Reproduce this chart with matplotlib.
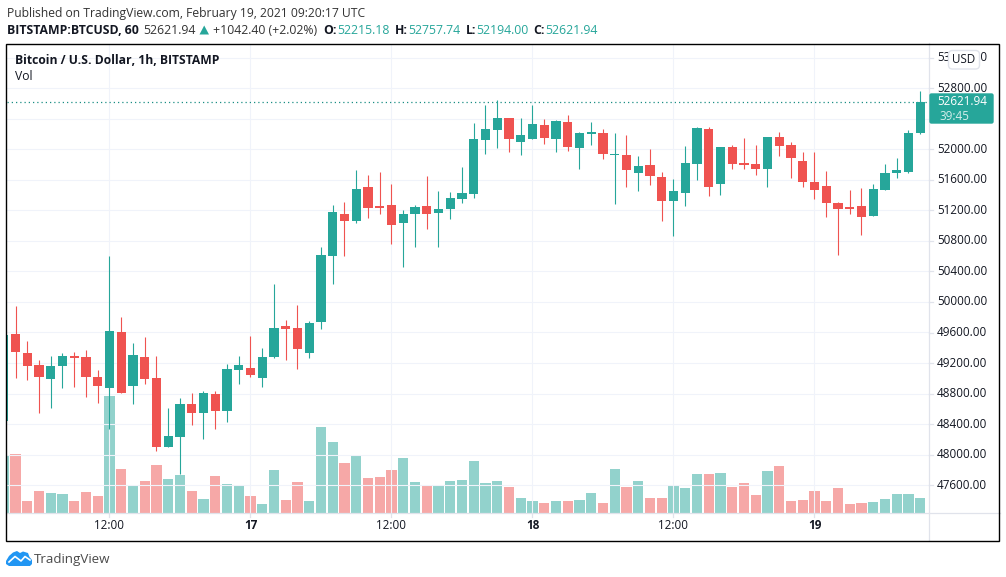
import matplotlib
matplotlib.use('Agg')
import matplotlib.pyplot as plt
import matplotlib.patches as patches

plt.rcParams['font.family'] = ['Open Sans', 'DejaVu Sans']

W, H = 1006, 577
GREEN = '#26a69a'
RED = '#ef5350'
GRID = '#f0f3fa'
RULER = '#e0e3eb'
TEXT = '#131722'

# hourly candles, hour 0 is 12:00 on Feb 16
hours = list(range(-9, 70))
opens = [48440, 49580, 49331, 49173, 48990, 49160, 49291, 49278, 49016,
         48872, 49606, 48898, 49278, 49003, 48099, 48230, 48662, 48545, 48793, 48571, 49108,
         49134, 49003, 49278, 49684, 49658, 49331, 49737, 50601, 51151, 51060, 51505, 51256,
         51269, 51034, 51151, 51256, 51165, 51217, 51348, 51414, 52121, 52252, 52409, 52095,
         52134, 52317, 52134, 52357, 52016, 52200, 52213, 51924, 51924, 51689, 51793, 51636,
         51322, 51427, 51807, 52265, 51544, 52029, 51820, 51807, 51741, 52160, 52055, 51846,
         51571, 51518, 51296, 51243, 51256, 51125, 51466, 51689, 51702, 52215.18]
highs = [49600, 49946, 49488, 49239, 49291, 49331, 49344, 49370, 49108,
         50601, 49802, 49462, 49540, 49291, 48610, 48741, 48806, 48833, 48833, 49186, 49291,
         49553, 49396, 50235, 49763, 49959, 49750, 50719, 51269, 51309, 51728, 51662, 51702,
         51545, 51204, 51269, 51649, 51453, 51440, 51767, 52344, 52579, 52645, 52409, 52409,
         52579, 52396, 52383, 52448, 52226, 52357, 52265, 52213, 52186, 51911, 52003, 51702,
         51610, 52042, 52291, 52291, 52029, 52055, 52147, 52055, 52160, 52226, 52095, 51964,
         51964, 51715, 51309, 51466, 51492, 51544, 51807, 51885, 52252, 52757.74]
lows = [48420, 49003, 48977, 48545, 48610, 48872, 48885, 48754, 48676,
        48335, 48806, 48662, 48924, 48047, 48099, 47745, 48387, 48204, 48335, 48427, 48924,
        49016, 48885, 49265, 49239, 49121, 49265, 49645, 50234, 50601, 51034, 51099, 51151,
        50758, 50457, 50719, 50955, 50719, 51086, 51296, 51361, 51938, 52016, 51964, 51924,
        52134, 52069, 51964, 51977, 51741, 52055, 51872, 51282, 51505, 51453, 51531, 51060,
        50863, 51256, 51597, 51387, 51400, 51741, 51741, 51662, 51505, 51911, 51623, 51505,
        51348, 51112, 50614, 51151, 50876, 51125, 51466, 51623, 51689, 52194.00]
closes = [49566, 49344, 49160, 49016, 49160, 49291, 49265, 49016, 48898,
          49619, 48806, 49304, 48990, 48099, 48243, 48662, 48545, 48806, 48571, 49121, 49173,
          49042, 49278, 49658, 49645, 49383, 49724, 50614, 51178, 51060, 51479, 51230, 51230,
          51007, 51151, 51243, 51151, 51217, 51361, 51427, 52134, 52265, 52409, 52134, 52186,
          52331, 52147, 52370, 52029, 52213, 52226, 51938, 51938, 51728, 51780, 51649, 51322,
          51453, 51820, 52278, 51505, 52029, 51807, 51793, 51741, 52160, 52042, 51885, 51571,
          51466, 51296, 51217, 51217, 51112, 51479, 51689, 51728, 52213, 52621.94]
# volume bars, units
volumes = [174, 177, 36, 66, 60, 57, 36, 63, 51,
           351, 132, 81, 96, 144, 102, 114, 66, 42, 111, 87, 81,
           51, 27, 129, 39, 93, 36, 258, 213, 150, 174, 105, 108,
           129, 165, 93, 84, 81, 96, 99, 156, 90, 96, 78, 45,
           36, 30, 36, 36, 39, 60, 30, 132, 78, 96, 45, 45,
           81, 75, 117, 117, 120, 78, 90, 54, 126, 141, 36, 39,
           66, 36, 75, 27, 30, 33, 42, 57, 57, 45]
vol_colors = ['g', 'r', 'r', 'r', 'g', 'g', 'r', 'r', 'r',
              'g', 'r', 'g', 'r', 'r', 'g', 'g', 'r', 'g', 'r', 'g', 'g',
              'r', 'g', 'g', 'r', 'r', 'g', 'g', 'g', 'r', 'g', 'r', 'r',
              'r', 'g', 'g', 'r', 'g', 'g', 'g', 'g', 'g', 'g', 'r', 'g',
              'g', 'r', 'g', 'r', 'g', 'g', 'r', 'g', 'r', 'g', 'r', 'r',
              'g', 'g', 'g', 'r', 'g', 'r', 'r', 'r', 'g', 'r', 'r', 'r',
              'r', 'r', 'r', 'r', 'r', 'g', 'g', 'g', 'g', 'g']

time_ticks = [0, 12, 24, 36, 48, 60]
time_labels = ['12:00', '17', '12:00', '18', '12:00', '19']
price_ticks = [47600, 48000, 48400, 48800, 49200, 49600, 50000, 50400, 50800, 51200,
               51600, 52000, 52400, 52800, 53200]
last_price = 52621.94


def fx(x):
    return x / W


def fy(y):
    return 1 - y / H


fig = plt.figure(figsize=(W / 100, H / 100), dpi=100)

# main pane
left, right, top, bottom = 6.5, 929.5, 43.5, 512.5
ax = fig.add_axes([fx(left), fy(bottom), fx(right - left), (bottom - top) / H])
ax.set_xlim((left - 109.5) / 11.75, (right - 109.5) / 11.75)
ax.set_ylim(47242, 53385)
for s in ax.spines.values():
    s.set_visible(False)
ax.set_xticks([])
ax.set_yticks([])
ax.patch.set_alpha(0)

for p in price_ticks:
    ax.axhline(p, color=GRID, lw=0.8, zorder=0)
for t in time_ticks:
    ax.axvline(t, color=GRID, lw=0.8, zorder=0)

# volume pane shares the x range
vax = ax.twinx()
vax.set_ylim(0, (bottom - top) * 3)
vax.set_yticks([])
for s in vax.spines.values():
    s.set_visible(False)
vax.set_zorder(1)
vax.patch.set_alpha(0)
ax.set_zorder(2)
for h, v, c in zip(hours, volumes, vol_colors):
    vax.bar(h, v, width=0.88, color=GREEN if c == 'g' else RED, alpha=0.5, lw=0)

# candles
for h, o, hi, lo, c in zip(hours, opens, highs, lows, closes):
    col = GREEN if c >= o else RED
    ax.vlines(h, lo, hi, color=col, lw=0.8, zorder=3)
    ax.bar(h, abs(c - o), bottom=min(o, c), width=0.77, color=col, lw=0, zorder=4)

ax.axhline(last_price, color='#1b8f84', lw=0.9, ls=(0, (1, 2.4)), zorder=2)

# everything drawn in figure pixels on top
ov = fig.add_axes([0, 0, 1, 1], zorder=5)
ov.set_xlim(0, W)
ov.set_ylim(H, 0)
ov.axis('off')
ov.patch.set_alpha(0)

ov.plot([right, right], [43, 540], color=RULER, lw=0.9)
ov.plot([6, 1000], [bottom, bottom], color=RULER, lw=0.9)

# price scale, 52400 sits behind the last price label in the reference
for p in price_ticks:
    y = 88.2 + (52800 - p) * 0.07635
    ov.plot([right, right + 4], [y, y], color=RULER, lw=0.9)
    if p != 52400:
        ov.text(962, y, '%.2f' % p, ha='center', va='center', fontsize=8.4, color=TEXT, zorder=3)

# time scale
for t, lab in zip(time_ticks, time_labels):
    x = 109.5 + t * 11.75
    ov.plot([x, x], [bottom, bottom + 4], color=RULER, lw=0.9)
    ov.text(x, 525.5, lab, ha='center', va='center', fontsize=8.4, color=TEXT,
            fontweight='bold' if ':' not in lab else 'normal')

# last price label
ov.add_patch(patches.FancyBboxPatch((930, 94), 63, 29, boxstyle='round,pad=0,rounding_size=1.5',
                                    fc=GREEN, ec=GREEN, lw=1, zorder=4))
ov.text(962, 101.5, '52621.94', ha='center', va='center', fontsize=8.4, color='white', zorder=5)
ov.text(939, 116, '39:45', ha='left', va='center', fontsize=8.4, color='#d4eeeb', zorder=5)

# USD button covers the top tick label
ov.add_patch(patches.FancyBboxPatch((948.5, 50.5), 31, 18.5, boxstyle='round,pad=0,rounding_size=4',
                                    fc='white', ec=RULER, lw=1, zorder=4))
ov.text(964, 59.5, 'USD', ha='center', va='center', fontsize=8.4, color=TEXT, zorder=5)

# outer frame
ov.add_patch(patches.Rectangle((6.5, 43.5), 993, 497, fc='none', ec='black', lw=1.0, zorder=6))

# header
ov.text(7, 13, 'Published on TradingView.com, February 19, 2021 09:20:17 UTC', va='center',
        fontsize=8.7, color='#333333')
y2 = 30
ov.text(7, y2, 'BITSTAMP:BTCUSD, 60', va='center', fontsize=8.8, color=TEXT, fontweight='bold')
ov.text(143, y2, '52621.94', va='center', fontsize=8.8, color='#333333')
ov.add_patch(patches.Polygon([[199.5, 34.5], [209, 34.5], [204.2, 25.5]], fc=GREEN, ec='none'))
ov.text(213, y2, '+1042.40 (+2.02%)', va='center', fontsize=8.8, color='#333333')
for x1, name, x2, val in [(323.5, 'O:', 337, '52215.18'), (394.5, 'H:', 408, '52757.74'),
                          (465.5, 'L:', 476, '52194.00'), (533, 'C:', 545.5, '52621.94')]:
    ov.text(x1, y2, name, va='center', fontsize=8.8, color=TEXT, fontweight='bold')
    ov.text(x2, y2, val, va='center', fontsize=8.8, color=GREEN)

# pane titles
ov.text(15, 60, 'Bitcoin / U.S. Dollar, 1h, BITSTAMP', va='center', fontsize=8.7, color=TEXT,
        fontweight='bold')
ov.text(15, 77, 'Vol', va='center', fontsize=8.7, color=TEXT)

# TradingView logo
cloud = [[6, 561], [9, 556], [13, 552.5], [17, 551], [20, 553], [23, 551.5], [28, 553],
         [29.5, 557], [32, 560], [32, 564], [30, 566], [9, 566], [6, 564]]
ov.add_patch(patches.Polygon(cloud, fc='#2196f3', ec='none'))
ov.plot([9, 15, 21, 25, 30], [562, 556.5, 561, 556.5, 560], color='white', lw=1.2)
ov.text(34, 559, 'TradingView', va='center', fontsize=9.6, color='#4a4a4a')

fig.savefig('out.png', dpi=100)
